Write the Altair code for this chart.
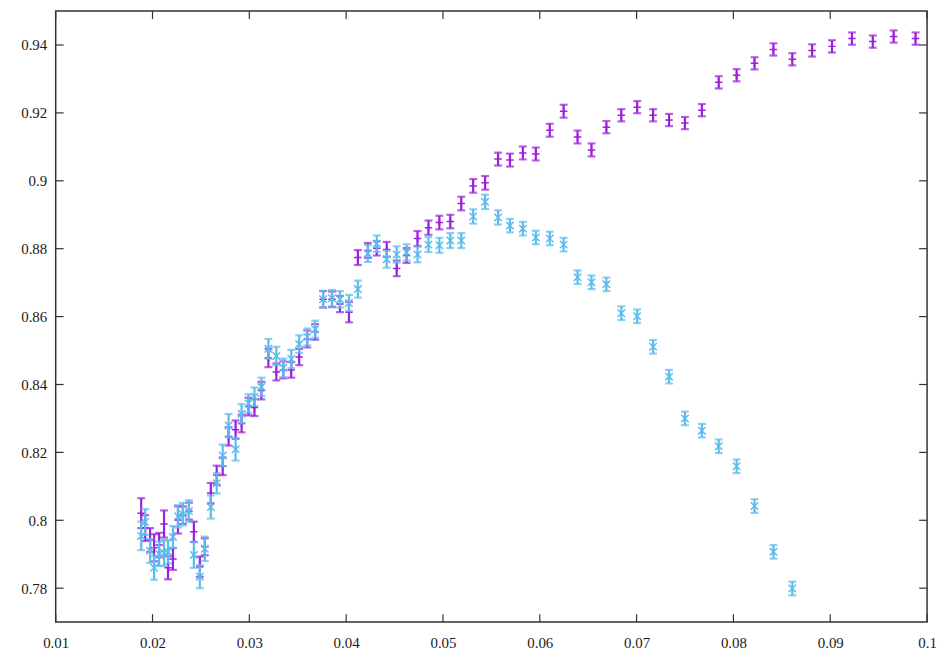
import altair as alt
import pandas as pd

# shared x positions (both series)
x_vals = [0.01883, 0.01924, 0.01975, 0.02016, 0.02068, 0.02119, 0.02160, 0.02211, 0.02263, 0.02314,
          0.02376, 0.02427, 0.02489, 0.02540, 0.02602, 0.02663, 0.02725, 0.02786, 0.02858, 0.02920,
          0.02992, 0.03053, 0.03125, 0.03197, 0.03279, 0.03351, 0.03433, 0.03515, 0.03598, 0.03680,
          0.03762, 0.03854, 0.03936, 0.04029, 0.04121, 0.04224, 0.04316, 0.04419, 0.04522, 0.04624,
          0.04737, 0.04850, 0.04963, 0.05076, 0.05189, 0.05312, 0.05435, 0.05569, 0.05692, 0.05825,
          0.05959, 0.06103, 0.06246, 0.06390, 0.06534, 0.06688, 0.06842, 0.07006, 0.07170, 0.07335,
          0.07499, 0.07674, 0.07848, 0.08033, 0.08218, 0.08413, 0.08608, 0.08813, 0.09018, 0.09224,
          0.09439, 0.09655, 0.09881]

purple_y = [0.8021, 0.7977, 0.7942, 0.7919, 0.7927, 0.7989, 0.7860, 0.7886, 0.8001, 0.8015,
            0.8027, 0.7966, 0.7863, 0.7922, 0.8080, 0.8133, 0.8159, 0.8247, 0.8267, 0.8285,
            0.8335, 0.8332, 0.8382, 0.8478, 0.8437, 0.8443, 0.8443, 0.8481, 0.8534, 0.8555,
            0.8651, 0.8651, 0.8637, 0.8613, 0.8774, 0.8795, 0.8801, 0.8798, 0.8742, 0.8780,
            0.8830, 0.8862, 0.8877, 0.8880, 0.8933, 0.8985, 0.8994, 0.9064, 0.9061, 0.9082,
            0.9079, 0.9149, 0.9205, 0.9129, 0.9091, 0.9158, 0.9193, 0.9217, 0.9193, 0.9179,
            0.9170, 0.9208, 0.9290, 0.9311, 0.9346, 0.9387, 0.9358, 0.9384, 0.9396, 0.9419,
            0.9410, 0.9425, 0.9419]
purple_err = [0.0044, 0.0038, 0.0035, 0.0040, 0.0036, 0.0040, 0.0034, 0.0032, 0.0040, 0.0026,
              0.0025, 0.0030, 0.0030, 0.0025, 0.0030, 0.0028, 0.0026, 0.0027, 0.0027, 0.0026,
              0.0026, 0.0025, 0.0026, 0.0027, 0.0025, 0.0025, 0.0023, 0.0024, 0.0025, 0.0023,
              0.0024, 0.0023, 0.0024, 0.0030, 0.0022, 0.0022, 0.0021, 0.0022, 0.0023, 0.0022,
              0.0022, 0.0021, 0.0020, 0.0020, 0.0020, 0.0020, 0.0020, 0.0019, 0.0019, 0.0019,
              0.0019, 0.0019, 0.0019, 0.0019, 0.0019, 0.0018, 0.0018, 0.0018, 0.0018, 0.0018,
              0.0018, 0.0018, 0.0018, 0.0018, 0.0018, 0.0018, 0.0018, 0.0018, 0.0018, 0.0018,
              0.0018, 0.0018, 0.0018]

cyan_y = [0.7954, 0.7995, 0.7910, 0.7860, 0.7901, 0.7904, 0.7907, 0.7951, 0.8012, 0.8018,
          0.8027, 0.7898, 0.7834, 0.7916, 0.8039, 0.8109, 0.8191, 0.8279, 0.8209, 0.8314,
          0.8344, 0.8364, 0.8393, 0.8505, 0.8484, 0.8449, 0.8475, 0.8519, 0.8540, 0.8563,
          0.8651, 0.8654, 0.8651, 0.8640, 0.8681, 0.8786, 0.8815, 0.8769, 0.8783, 0.8789,
          0.8783, 0.8812, 0.8810, 0.8824, 0.8824, 0.8895, 0.8938, 0.8892, 0.8868, 0.8859,
          0.8833, 0.8830, 0.8812, 0.8716, 0.8701, 0.8695, 0.8610, 0.8601, 0.8511, 0.8423,
          0.8300, 0.8264, 0.8218, 0.8159, 0.8042, 0.7907, 0.7799]
cyan_err = [0.0042, 0.0038, 0.0035, 0.0035, 0.0036, 0.0038, 0.0034, 0.0032, 0.0033, 0.0033,
            0.0032, 0.0038, 0.0034, 0.0036, 0.0034, 0.0030, 0.0032, 0.0034, 0.0033, 0.0028,
            0.0027, 0.0027, 0.0027, 0.0029, 0.0027, 0.0027, 0.0027, 0.0026, 0.0025, 0.0025,
            0.0025, 0.0024, 0.0024, 0.0024, 0.0025, 0.0025, 0.0024, 0.0025, 0.0024, 0.0024,
            0.0023, 0.0022, 0.0022, 0.0022, 0.0022, 0.0021, 0.0021, 0.0021, 0.0020, 0.0020,
            0.0020, 0.0020, 0.0020, 0.0020, 0.0020, 0.0020, 0.0020, 0.0020, 0.0020, 0.0020,
            0.0020, 0.0020, 0.0020, 0.0020, 0.0020, 0.0020, 0.0020]

x_ticks = [0.01, 0.02, 0.03, 0.04, 0.05, 0.06, 0.07, 0.08, 0.09, 0.1]
y_ticks = [0.78, 0.80, 0.82, 0.84, 0.86, 0.88, 0.90, 0.92, 0.94]

PURPLE = "#9C1FDB"
CYAN = "#5BBCEB"
W, H = 877, 615
FONT = "Liberation Serif, Times New Roman, serif"

def frame(xs, ys, errs):
    d = pd.DataFrame({"x": xs[:len(ys)], "y": ys, "err": errs})
    d["lo"] = d["y"] - d["err"]
    d["hi"] = d["y"] + d["err"]
    return d

dp = frame(x_vals, purple_y, purple_err)
dc = frame(x_vals, cyan_y, cyan_err)

xscale = alt.Scale(domain=[0.01, 0.1], nice=False, zero=False)
yscale = alt.Scale(domain=[0.77, 0.95], nice=False, zero=False)
xaxis = alt.Axis(values=x_ticks, format=".2~f", title=None, grid=False, domain=False,
                 tickSize=0, labelFont=FONT, labelFontSize=15, labelColor="#1a1a1a",
                 labelPadding=14, labelFlush=False, labelOverlap=False)
yaxis = alt.Axis(values=y_ticks, format=".2~f", title=None, grid=False, domain=False,
                 tickSize=0, labelFont=FONT, labelFontSize=15, labelColor="#1a1a1a",
                 labelPadding=9, labelOverlap=False)

PLUS = "M-1,0L1,0M0,-1L0,1"
CROSS = "M-1,-1L1,1M-1,1L1,-1"

def series_layers(d, color, shape):
    base = alt.Chart(d)
    X = alt.X("x:Q", scale=xscale, axis=xaxis)
    bars = base.mark_rule(color=color, strokeWidth=2.2).encode(
        x=X, y=alt.Y("lo:Q", scale=yscale, axis=yaxis), y2="hi:Q")
    cap_lo = base.mark_tick(color=color, orient="horizontal", size=8, thickness=2.2).encode(
        x=X, y=alt.Y("lo:Q", scale=yscale, axis=yaxis))
    cap_hi = base.mark_tick(color=color, orient="horizontal", size=8, thickness=2.2).encode(
        x=X, y=alt.Y("hi:Q", scale=yscale, axis=yaxis))
    pts = base.mark_point(color=color, shape=shape, size=56, strokeWidth=1.5, filled=False,
                          opacity=1).encode(
        x=X, y=alt.Y("y:Q", scale=yscale, axis=yaxis))
    return [bars, cap_lo, cap_hi, pts]

yt = pd.DataFrame({"v": y_ticks})
xt = pd.DataFrame({"v": x_ticks})
TICK = "#333333"
ytick_l = alt.Chart(yt).mark_rule(color=TICK, strokeWidth=1.2).encode(
    y=alt.Y("v:Q", scale=yscale, axis=yaxis), x=alt.value(0), x2=alt.value(8))
ytick_r = alt.Chart(yt).mark_rule(color=TICK, strokeWidth=1.2).encode(
    y=alt.Y("v:Q", scale=yscale, axis=yaxis), x=alt.value(W - 8), x2=alt.value(W))
xtick_b = alt.Chart(xt).mark_rule(color=TICK, strokeWidth=1.2).encode(
    x=alt.X("v:Q", scale=xscale, axis=xaxis), y=alt.value(H), y2=alt.value(H - 8))
xtick_t = alt.Chart(xt).mark_rule(color=TICK, strokeWidth=1.2).encode(
    x=alt.X("v:Q", scale=xscale, axis=xaxis), y=alt.value(0), y2=alt.value(8))

layers = series_layers(dp, PURPLE, PLUS) + series_layers(dc, CYAN, CROSS) + [ytick_l, ytick_r, xtick_b, xtick_t]

chart = alt.layer(*layers).properties(
    width=W, height=H,
    autosize=alt.AutoSizeParams(type="none"),
    padding={"left": 48, "top": 1, "right": 10, "bottom": 30},
    background="white",
).configure_view(stroke="#333333", strokeWidth=1.5)

chart.save("out.html", embed_options={"renderer": "svg", "actions": False})
